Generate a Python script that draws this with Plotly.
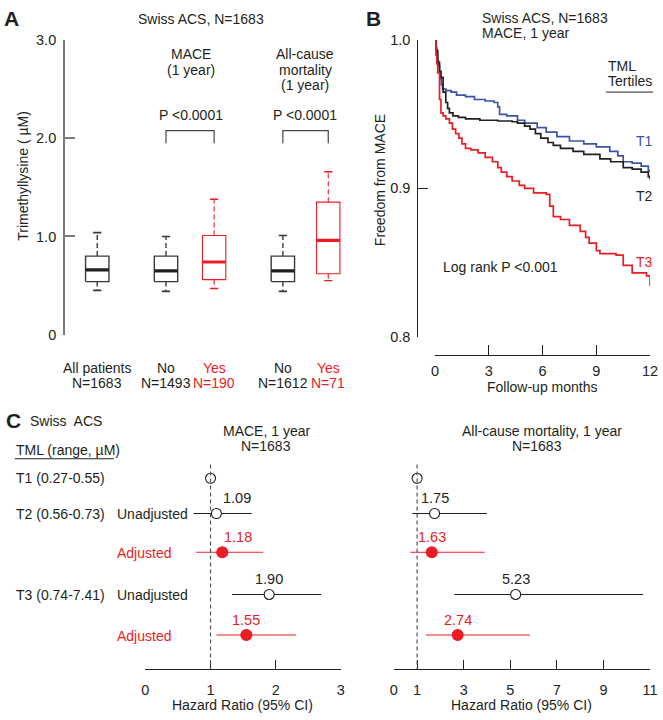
import plotly.graph_objects as go

W, H = 663, 720
def px(x): return x / W
def py(y): return 1 - y / H

RED = "#ec1c24"
BLUE = "#3a55a6"
BLACK = "#231f20"
GRAY = "#7a7a7a"
FONT = "Liberation Sans, Arial, sans-serif"

# ---------------- Panel A data (box plots, trimethyllysine µM) ----------------
groups = ["All patients", "No", "Yes", "No", "Yes"]
group_n = ["N=1683", "N=1493", "N=190", "N=1612", "N=71"]
group_is_event = [False, False, True, False, True]
whisk_lo = [0.45, 0.44, 0.47, 0.44, 0.55]
q1 = [0.54, 0.54, 0.56, 0.54, 0.62]
median = [0.66, 0.65, 0.74, 0.65, 0.96]
q3 = [0.80, 0.80, 1.01, 0.80, 1.35]
whisk_hi = [1.04, 1.00, 1.38, 1.01, 1.66]
pvalues_A = ["P <0.0001", "P <0.0001"]

# ---------------- Panel B data (Kaplan-Meier, freedom from MACE) ----------------
t1_time = [0, 0.05, 0.1, 0.15, 0.2, 0.25, 0.3, 0.35, 0.42, 0.6, 0.9, 1.2, 1.7, 2.2, 2.8, 3.3,
           3.5, 3.6, 4.0, 4.6, 5.0, 5.7, 6.2, 6.8, 7.5, 8.3, 9.0, 9.75, 10.2, 10.5, 11.0, 11.5, 11.9, 12]
t1_surv = [1.0, 0.995, 0.99, 0.986, 0.983, 0.978, 0.974, 0.970, 0.967, 0.966, 0.965, 0.963, 0.962,
           0.960, 0.959, 0.958, 0.955, 0.950, 0.949, 0.946, 0.944, 0.941, 0.938, 0.935, 0.932, 0.930,
           0.928, 0.925, 0.922, 0.918, 0.917, 0.915, 0.912, 0.911]
t2_time = [0, 0.05, 0.15, 0.25, 0.33, 0.45, 0.6, 0.7, 0.8, 1.0, 1.3, 1.7, 2.5, 3.5, 4.3, 4.6, 5.0,
           5.3, 5.6, 5.9, 6.3, 6.6, 7.0, 7.7, 8.3, 9.2, 9.8, 10.5, 11.0, 11.5, 11.9, 12]
t2_surv = [1.0, 0.993, 0.985, 0.979, 0.975, 0.965, 0.958, 0.954, 0.951, 0.949, 0.948, 0.947, 0.946,
           0.9455, 0.945, 0.944, 0.942, 0.940, 0.937, 0.934, 0.931, 0.929, 0.927, 0.925, 0.923,
           0.920, 0.918, 0.914, 0.913, 0.911, 0.908, 0.906]
t3_time = [0, 0.05, 0.1, 0.15, 0.25, 0.33, 0.45, 0.6, 0.8, 0.97, 1.15, 1.33, 1.5, 1.7, 2.0, 2.4,
           2.8, 3.2, 3.5, 3.7, 4.0, 4.3, 4.7, 5.0, 5.5, 6.2, 6.4, 6.6, 7.0, 7.5, 8.1, 8.4, 8.6, 9.0,
           9.2, 10.1, 10.5, 11.0, 11.8, 12]
t3_surv = [1.0, 0.99, 0.984, 0.978, 0.96, 0.951, 0.949, 0.947, 0.944, 0.940, 0.937, 0.934, 0.930,
           0.927, 0.926, 0.924, 0.921, 0.918, 0.914, 0.911, 0.908, 0.905, 0.902, 0.900, 0.897,
           0.896, 0.888, 0.881, 0.879, 0.875, 0.871, 0.867, 0.863, 0.858, 0.856, 0.855, 0.848,
           0.843, 0.841, 0.834]
km_labels = ["T1", "T2", "T3"]

# ---------------- Panel C data (hazard ratios) ----------------
tml_rows = ["T1 (0.27-0.55)", "T2 (0.56-0.73)", "T3 (0.74-7.41)"]
row_kind = ["ref", "Unadjusted", "Adjusted", "Unadjusted", "Adjusted"]
mace_hr = [1.0, 1.09, 1.18, 1.90, 1.55]
mace_lo = [None, 0.74, 0.78, 1.33, 1.09]
mace_hi = [None, 1.63, 1.81, 2.70, 2.31]
mort_hr = [1.0, 1.75, 1.63, 5.23, 2.74]
mort_lo = [None, 0.80, 0.71, 2.60, 1.38]
mort_hi = [None, 4.00, 3.90, 10.7, 5.85]

# ---------------- layout constants ----------------
group_pos = [1, 2, 2.7, 3.7, 4.36]
box_hw = 0.17
cap_hw = 0.06
row_pos = [0, 1, 2.1, 3.3, 4.45]
FS = 14

fig = go.Figure()

# Panel A boxes
for i in range(len(groups)):
    p = group_pos[i]
    ev = group_is_event[i]
    bc = RED if ev else "#3a3a3a"
    mc = RED if ev else BLACK
    lw = 1.1 if ev else 1.4
    fig.add_trace(go.Scatter(x=[p - box_hw, p + box_hw, p + box_hw, p - box_hw, p - box_hw],
                             y=[q1[i], q1[i], q3[i], q3[i], q1[i]], mode="lines",
                             line=dict(color=bc, width=lw), xaxis="x", yaxis="y", hoverinfo="skip"))
    fig.add_trace(go.Scatter(x=[p - box_hw, p + box_hw], y=[median[i], median[i]], mode="lines",
                             line=dict(color=mc, width=3.2), xaxis="x", yaxis="y"))
    for a, b in ((q3[i], whisk_hi[i]), (q1[i], whisk_lo[i])):
        fig.add_trace(go.Scatter(x=[p, p], y=[a, b], mode="lines",
                                 line=dict(color=bc, width=lw, dash="5px,3px"), xaxis="x", yaxis="y"))
        fig.add_trace(go.Scatter(x=[p - cap_hw, p + cap_hw], y=[b, b], mode="lines",
                                 line=dict(color=bc, width=lw + 0.3), xaxis="x", yaxis="y"))

# Panel B KM curves
for tt, ss, col in ((t1_time, t1_surv, BLUE), (t2_time, t2_surv, BLACK), (t3_time, t3_surv, RED)):
    fig.add_trace(go.Scatter(x=tt, y=ss, mode="lines", line=dict(color=col, width=1.7, shape="hv"),
                             xaxis="x2", yaxis="y2"))

# Panel C forest plots
annotations = []
for hr, lo, hi, xa, ya, shifts in ((mace_hr, mace_lo, mace_hi, "x3", "y3", [0, 21, 16, 0, 0]),
                                   (mort_hr, mort_lo, mort_hi, "x4", "y4", [0, 0, 0, 0, 0])):
    for j in range(len(hr)):
        adj = row_kind[j] == "Adjusted"
        col = RED if adj else BLACK
        if lo[j] is not None:
            fig.add_trace(go.Scatter(x=[lo[j], hi[j]], y=[row_pos[j], row_pos[j]], mode="lines",
                                     line=dict(color=col, width=1.1), xaxis=xa, yaxis=ya))
        fig.add_trace(go.Scatter(x=[hr[j]], y=[row_pos[j]], mode="markers",
                                 marker=dict(size=11 if adj else 10, color=RED if adj else "white",
                                             line=dict(color=RED if adj else BLACK, width=1.1)),
                                 xaxis=xa, yaxis=ya, cliponaxis=False))
        if j > 0:
            annotations.append(dict(text=f"{hr[j]:.2f}", x=hr[j], y=row_pos[j], xref=xa, yref=ya,
                                    showarrow=False, yshift=15, xshift=shifts[j],
                                    font=dict(size=14.5, color=col, family=FONT)))


def ann(text, x, y, size=FS, color=BLACK, xanchor="center", bold=False, angle=0):
    if bold:
        text = f"<b>{text}</b>"
    return dict(text=text, x=px(x), y=py(y), xref="paper", yref="paper", showarrow=False,
                font=dict(size=size, color=color, family=FONT), xanchor=xanchor,
                yanchor="middle", textangle=angle, borderpad=0)

# Panel A texts
annotations += [
    ann("A", 8, 11, size=21, bold=True),
    ann("Swiss ACS, N=1683", 201, 11),
    ann("MACE", 190, 47), ann("(1 year)", 190, 63),
    ann("All-cause", 307, 47), ann("mortality", 307, 63), ann("(1 year)", 307, 79),
    ann(pvalues_A[0], 190, 109), ann(pvalues_A[1], 307, 109),
    ann("Trimethyllysine ( µM)", 20, 172, angle=-90),
]
for i in range(len(groups)):
    col = RED if group_is_event[i] else BLACK
    annotations.append(dict(text=groups[i], x=group_pos[i], y=py(368), xref="x", yref="paper",
                            showarrow=False, borderpad=0,
                            font=dict(size=FS, color=col, family=FONT)))
    annotations.append(dict(text=group_n[i], x=group_pos[i], y=py(384), xref="x", yref="paper",
                            showarrow=False, borderpad=0,
                            font=dict(size=FS, color=col, family=FONT)))

# Panel B texts
annotations += [
    ann("B", 376, 11, size=21, bold=True),
    ann("Swiss ACS, N=1683", 486, 10, xanchor="left"),
    ann("MACE, 1 year", 486, 26, xanchor="left"),
    ann("TML", 614, 59, xanchor="left"),
    ann("Tertiles", 614, 75, xanchor="left"),
    ann(km_labels[0], 643, 136, color=BLUE, xanchor="left"),
    ann(km_labels[1], 643, 192, color=BLACK, xanchor="left"),
    ann(km_labels[2], 643, 260, color=RED, xanchor="left"),
    ann("Log rank P <0.001", 446, 265, xanchor="left"),
    ann("Freedom from MACE", 383, 176, angle=-90),
    ann("Follow-up months", 548, 388),
]

# Panel C texts
annotations += [
    ann("C", 10, 422, size=21, bold=True),
    ann("Swiss  ACS", 25, 422, xanchor="left"),
    ann("TML (range, µM)", 11, 452, xanchor="left"),
    ann("MACE, 1 year", 267, 433), ann("N=1683", 267, 448),
    ann("All-cause mortality, 1 year", 548, 433), ann("N=1683", 543, 448),
    ann(tml_rows[0], 11, 481, xanchor="left"),
    ann(tml_rows[1], 11, 517, xanchor="left"),
    ann(tml_rows[2], 11, 600, xanchor="left"),
    ann("Hazard Ratio (95% CI)", 243, 713),
    ann("Hazard Ratio (95% CI)", 527, 713),
]
kind_y = [None, 517, 557, 600, 642]
for j in range(1, len(row_kind)):
    col = RED if row_kind[j] == "Adjusted" else BLACK
    annotations.append(ann(row_kind[j], 114, kind_y[j], color=col, xanchor="left"))

shapes = [
    # significance brackets
    dict(type="path", xref="x", yref="y", path=f"M {group_pos[1]},1.95 L {group_pos[1]},2.08 L {group_pos[2]},2.08 L {group_pos[2]},1.95",
         line=dict(color="#444", width=1.2)),
    dict(type="path", xref="x", yref="y", path=f"M {group_pos[3]},1.95 L {group_pos[3]},2.08 L {group_pos[4]},2.08 L {group_pos[4]},1.95",
         line=dict(color="#444", width=1.2)),
    # underlines
    dict(type="line", xref="paper", yref="paper", x0=px(613), x1=px(661), y0=py(86), y1=py(86),
         line=dict(color=BLACK, width=1)),
    dict(type="line", xref="paper", yref="paper", x0=px(11), x1=px(112), y0=py(461), y1=py(461),
         line=dict(color=BLACK, width=1)),
    # HR = 1 reference lines
    dict(type="line", xref="x3", yref="y3", x0=1, x1=1, y0=-0.39, y1=5.417,
         line=dict(color="#555", width=1.2, dash="4px,3px")),
    dict(type="line", xref="x4", yref="y4", x0=1, x1=1, y0=-0.39, y1=5.417,
         line=dict(color="#555", width=1.2, dash="4px,3px")),
]

tickfont = dict(size=14.5, color=BLACK, family=FONT)
common = dict(showgrid=False, zeroline=False, showline=True, ticks="inside", tickfont=tickfont)

fig.update_layout(
    width=W, height=H, margin=dict(l=0, r=0, t=0, b=0),
    paper_bgcolor="white", plot_bgcolor="rgba(0,0,0,0)", showlegend=False,
    font=dict(family=FONT, color=BLACK),
    xaxis=dict(domain=[px(62), px(380)], range=[0.529, 5.071], visible=False, anchor="y"),
    yaxis=dict(domain=[py(334), py(33)], range=[0, 3], tickvals=[0, 1, 2, 3],
               ticktext=["0", "1.0", "2.0", "3.0"], ticklen=10, tickcolor=GRAY, linecolor=GRAY,
               linewidth=1.5, tickwidth=1.5, anchor="x", ticklabelstandoff=4, **common),
    xaxis2=dict(domain=[px(439), px(658)], range=[0, 12], tickvals=[0, 3, 6, 9, 12], ticklen=10,
                tickcolor=BLACK, linecolor=BLACK, linewidth=1.2, tickwidth=1.2, anchor="free",
                position=py(355), ticklabelstandoff=2, **common),
    yaxis2=dict(domain=[py(336), py(33)], range=[0.8, 1.0], tickvals=[0.8, 0.9, 1.0],
                ticktext=["0.8", "0.9", "1.0"], ticklen=10, tickcolor=BLACK, linecolor=BLACK,
                linewidth=1.2, tickwidth=1.2, anchor="free", position=px(421),
                ticklabelstandoff=4, **common),
    xaxis3=dict(domain=[px(144), px(343)], range=[0, 3], tickvals=[0, 1, 2, 3], ticklen=9,
                tickcolor=BLACK, linecolor=BLACK, linewidth=1.2, tickwidth=1.2, anchor="y3",
                ticklabelstandoff=8, **common),
    yaxis3=dict(domain=[py(676), py(460)], range=[5.417, -0.583], visible=False, anchor="x3"),
    xaxis4=dict(domain=[px(397), px(658)], range=[0, 11], tickvals=[0, 1, 3, 5, 7, 9, 11],
                ticklen=9, tickcolor=BLACK, linecolor=BLACK, linewidth=1.2, tickwidth=1.2,
                anchor="y4", ticklabelstandoff=8, **common),
    yaxis4=dict(domain=[py(676), py(460)], range=[5.417, -0.583], visible=False, anchor="x4"),
    annotations=annotations,
    shapes=shapes,
)

fig.write_html(
    "out.html",
    config={"displayModeBar": False},
    post_script="document.documentElement.style.margin='0';document.body.style.margin='0';"
                "document.body.style.overflow='hidden';",
)
